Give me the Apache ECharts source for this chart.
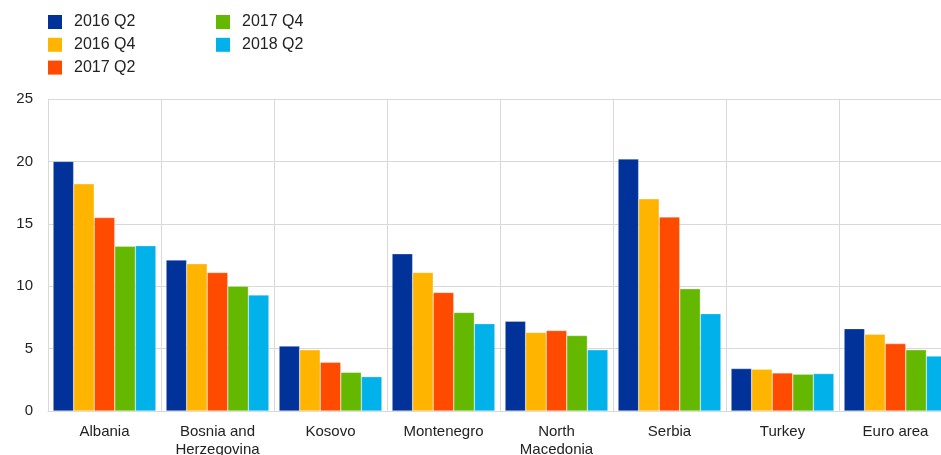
<!DOCTYPE html>
<html>
<head>
<meta charset="utf-8">
<script src="https://cdn.jsdelivr.net/npm/echarts@6/dist/echarts.min.js"></script>
<style>html,body{margin:0;padding:0;background:#fff;}#c{width:941px;height:455px;}</style>
</head>
<body>
<div id="c"></div>
<script>
const categories = ['Albania', 'Bosnia and\nHerzegovina', 'Kosovo', 'Montenegro', 'North\nMacedonia', 'Serbia', 'Turkey', 'Euro area'];
const seriesNames = ['2016 Q2', '2016 Q4', '2017 Q2', '2017 Q4', '2018 Q2'];
const s2016Q2 = [20.0, 12.1, 5.2, 12.6, 7.2, 20.2, 3.4, 6.6];
const s2016Q4 = [18.2, 11.8, 4.9, 11.1, 6.3, 17.0, 3.35, 6.15];
const s2017Q2 = [15.5, 11.1, 3.9, 9.5, 6.45, 15.55, 3.05, 5.4];
const s2017Q4 = [13.2, 10.0, 3.1, 7.9, 6.05, 9.8, 2.95, 4.9];
const s2018Q2 = [13.25, 9.3, 2.75, 7.0, 4.9, 7.8, 3.0, 4.4];
const yTicks = [0, 5, 10, 15, 20, 25];
const colors = ['#003299', '#FFB400', '#FF4B00', '#65B800', '#00B1EA'];

const values = [s2016Q2, s2016Q4, s2017Q2, s2017Q4, s2018Q2];
const chart = echarts.init(document.getElementById('c'));
const font = '"Liberation Sans", Arial, sans-serif';
const legendText = { fontFamily: font, fontSize: 16, color: '#222', padding: [0, 0, 0, 7] };
const legendBase = { orient: 'vertical', top: 14, padding: 0, itemWidth: 14, itemHeight: 14, itemGap: 6.8, icon: 'rect', textStyle: legendText, itemStyle: { borderWidth: 0 } };
chart.setOption({
  animation: false,
  color: colors,
  legend: [
    Object.assign({ left: 48, data: seriesNames.slice(0, 3) }, legendBase),
    Object.assign({ left: 216, data: seriesNames.slice(3) }, legendBase)
  ],
  grid: { left: 48, top: 99, bottom: 44, right: -11, containLabel: false, outerBoundsMode: 'none' },
  xAxis: {
    type: 'category',
    data: categories,
    axisTick: { show: false },
    axisLine: { lineStyle: { color: '#d9d9d9', width: 1 } },
    splitLine: { show: true, lineStyle: { color: '#d9d9d9', width: 1 } },
    axisLabel: { fontFamily: font, fontSize: 15, color: '#222', margin: 12, lineHeight: 18, interval: 0 }
  },
  yAxis: {
    type: 'value',
    min: yTicks[0], max: yTicks[yTicks.length - 1], interval: 5,
    axisLine: { show: false },
    axisTick: { show: false },
    splitLine: { lineStyle: { color: '#d9d9d9', width: 1 } },
    axisLabel: { fontFamily: font, fontSize: 15, color: '#222', margin: 15 }
  },
  series: seriesNames.map((n, i) => ({
    name: n,
    type: 'bar',
    data: values[i],
    barGap: '0%',
    barCategoryGap: '9%',
    itemStyle: { borderColor: 'rgba(255,255,255,0.6)', borderWidth: 0.5 }
  }))
});
</script>
</body>
</html>
